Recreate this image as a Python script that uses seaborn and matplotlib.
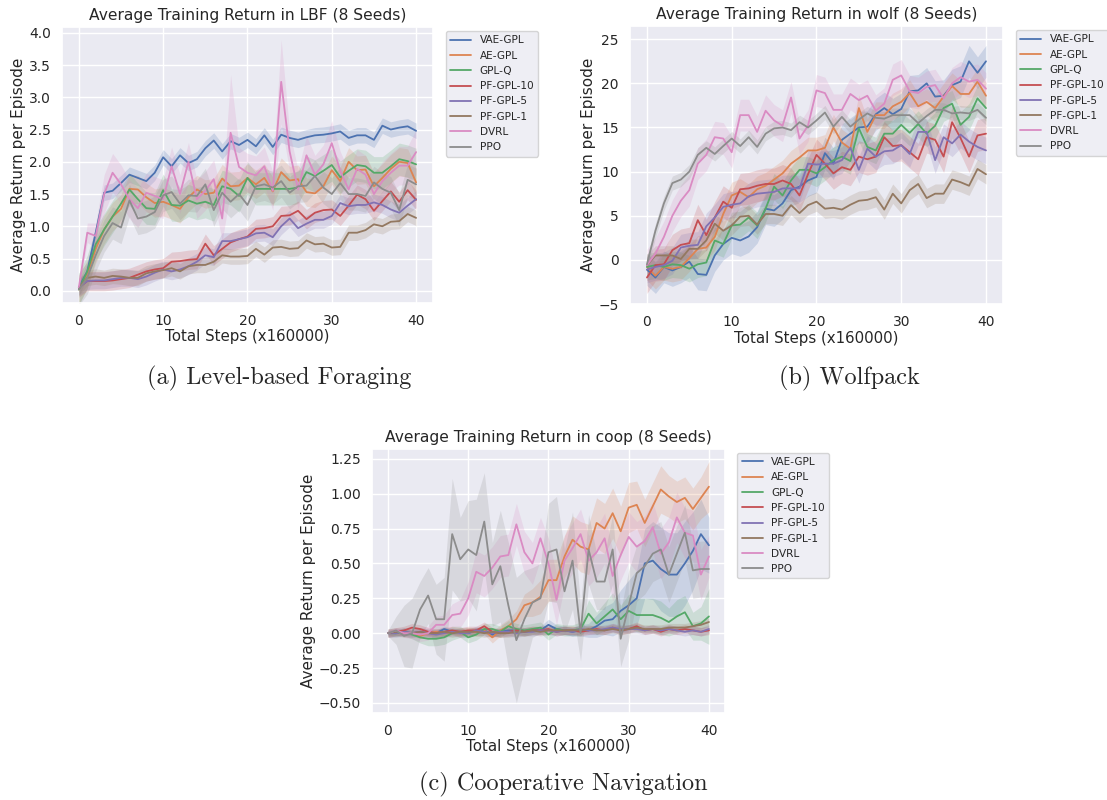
import numpy as np
import matplotlib
matplotlib.use("Agg")
import matplotlib.pyplot as plt
import seaborn as sns

METHODS = ["VAE-GPL", "AE-GPL", "GPL-Q", "PF-GPL-10", "PF-GPL-5", "PF-GPL-1", "DVRL", "PPO"]
STEPS = list(range(41))

# ---- Level-based Foraging ----
LBF_VAE_GPL = [0.05, 0.30, 0.90, 1.52, 1.55, 1.67, 1.80, 1.75, 1.70, 1.83, 2.07, 1.93, 2.10, 1.98, 2.04, 2.21, 2.33, 2.16, 2.32, 2.26, 2.34,
               2.24, 2.41, 2.23, 2.42, 2.37, 2.34, 2.38, 2.41, 2.42, 2.44, 2.47, 2.37, 2.41, 2.41, 2.34, 2.56, 2.50, 2.53, 2.55, 2.48]
LBF_AE_GPL = [0.02, 0.25, 0.65, 0.95, 1.15, 1.27, 1.58, 1.57, 1.45, 1.36, 1.38, 1.33, 1.27, 1.45, 1.57, 1.50, 1.52, 1.74, 1.62, 1.63, 1.75,
              1.65, 1.75, 1.54, 1.84, 1.71, 1.73, 1.53, 1.51, 1.62, 1.87, 1.70, 2.00, 1.87, 1.88, 1.62, 1.75, 1.89, 2.00, 1.98, 1.68]
LBF_GPL_Q = [0.02, 0.30, 0.72, 0.95, 1.15, 1.35, 1.57, 1.42, 1.28, 1.27, 1.56, 1.33, 1.32, 1.40, 1.35, 1.38, 1.33, 1.62, 1.58, 1.47, 1.75,
             1.58, 1.58, 1.58, 1.58, 1.58, 1.60, 1.84, 1.78, 1.86, 1.95, 1.76, 1.86, 1.95, 1.93, 1.83, 1.83, 1.93, 2.04, 2.01, 1.96]
LBF_PF_GPL_10 = [0.05, 0.15, 0.15, 0.15, 0.16, 0.18, 0.20, 0.25, 0.30, 0.33, 0.35, 0.45, 0.46, 0.48, 0.49, 0.73, 0.55, 0.65, 0.75, 0.80, 0.84,
                 0.96, 0.97, 1.00, 1.16, 1.17, 1.24, 1.11, 1.21, 1.25, 1.26, 1.16, 1.32, 1.49, 1.42, 1.24, 1.39, 1.54, 1.38, 1.56, 1.41]
LBF_PF_GPL_5 = [0.05, 0.15, 0.16, 0.16, 0.18, 0.20, 0.20, 0.18, 0.22, 0.28, 0.33, 0.30, 0.33, 0.38, 0.45, 0.55, 0.52, 0.77, 0.77, 0.80, 0.83,
                0.89, 0.90, 0.83, 1.00, 1.12, 0.97, 1.04, 1.10, 1.10, 1.16, 1.36, 1.31, 1.33, 1.33, 1.37, 1.33, 1.26, 1.21, 1.32, 1.42]
LBF_PF_GPL_1 = [0.05, 0.20, 0.22, 0.20, 0.23, 0.22, 0.20, 0.20, 0.27, 0.30, 0.32, 0.35, 0.30, 0.38, 0.40, 0.40, 0.45, 0.55, 0.53, 0.53, 0.54,
                0.65, 0.56, 0.67, 0.68, 0.65, 0.66, 0.78, 0.72, 0.73, 0.67, 0.68, 0.90, 0.90, 0.94, 1.03, 1.00, 1.07, 1.08, 1.19, 1.13]
LBF_DVRL = [0.05, 0.90, 0.85, 1.50, 1.83, 1.65, 1.42, 1.28, 1.52, 1.47, 1.42, 1.93, 1.50, 2.00, 1.42, 1.55, 1.73, 1.12, 2.45, 1.92, 1.83,
            1.79, 1.93, 1.55, 3.24, 2.16, 1.57, 2.10, 1.80, 1.96, 2.29, 1.86, 1.57, 1.89, 1.80, 1.50, 1.70, 1.83, 1.94, 1.94, 2.15]
LBF_PPO = [0.02, 0.20, 0.55, 0.85, 1.05, 0.98, 1.40, 1.12, 1.15, 1.22, 1.48, 1.53, 1.35, 1.48, 1.47, 1.65, 1.25, 1.52, 1.38, 1.50, 1.33,
           1.62, 1.65, 1.60, 1.70, 1.52, 1.62, 1.63, 1.78, 1.60, 1.50, 1.67, 1.50, 1.50, 1.47, 1.68, 1.58, 1.52, 1.25, 1.72, 1.65]
LBF_DVRL_SPREAD = [0.05, 0.15, 0.20, 0.30, 0.30, 0.30, 0.30, 0.30, 0.30, 0.30, 0.30, 0.30, 0.30, 0.30, 0.30, 0.30, 0.30, 0.35, 0.90, 0.30, 0.30,
                   0.30, 0.30, 0.30, 0.65, 0.30, 0.30, 0.30, 0.30, 0.30, 0.35, 0.30, 0.30, 0.30, 0.30, 0.30, 0.30, 0.30, 0.30, 0.30, 0.35]
LBF_SPREAD = [0.12, 0.22, 0.25, 0.15, 0.13, 0.12, LBF_DVRL_SPREAD, 0.25]

# ---- Wolfpack ----
WOLF_VAE_GPL = [-1.1, -2.0, -0.8, -1.2, -0.8, -0.2, -1.6, -1.7, 0.5, 1.8, 2.5, 2.2, 2.65, 3.7, 5.8, 5.6, 6.4, 7.9, 8.3, 9.0, 9.4,
                12.1, 10.9, 13.6, 14.3, 15.0, 15.1, 16.5, 17.2, 16.5, 17.1, 19.1, 19.2, 20.0, 18.5, 18.6, 19.8, 20.2, 22.5, 21.2, 22.5]
WOLF_AE_GPL = [-0.8, -1.8, -0.8, -1.0, -0.8, 0.2, 1.25, 1.4, 2.6, 5.2, 7.3, 7.7, 7.1, 8.0, 8.4, 9.1, 9.8, 10.9, 11.6, 12.4, 12.4,
               12.7, 15.0, 13.3, 12.6, 17.2, 14.5, 16.4, 16.4, 17.4, 17.9, 18.9, 17.4, 17.9, 17.2, 18.5, 19.7, 18.8, 18.8, 20.2, 18.6]
WOLF_GPL_Q = [-0.8, -0.6, -0.8, -0.5, -0.6, -1.0, -0.5, -0.3, 2.2, 1.8, 3.9, 4.0, 4.8, 3.9, 5.8, 8.3, 7.3, 9.0, 10.2, 10.2, 9.8,
              10.5, 11.3, 11.7, 11.2, 14.9, 12.8, 12.4, 14.3, 14.3, 15.3, 14.4, 15.4, 14.3, 15.2, 17.2, 17.7, 15.3, 16.2, 18.3, 17.2]
WOLF_PF_GPL_10 = [-2.0, -0.6, -0.5, 1.1, 1.7, 1.9, 4.5, 2.8, 4.8, 6.6, 5.9, 8.0, 8.1, 8.4, 8.6, 8.6, 9.0, 8.6, 7.3, 9.7, 11.9,
                  10.9, 9.8, 10.5, 10.2, 11.7, 11.4, 11.7, 13.9, 12.9, 13.0, 12.2, 11.4, 13.9, 13.6, 11.7, 15.6, 13.8, 11.7, 14.1, 14.3]
WOLF_PF_GPL_5 = [-1.1, -0.8, -0.6, -0.1, 1.4, 1.6, 1.7, 3.8, 4.8, 6.0, 6.25, 6.4, 7.2, 7.5, 7.6, 7.7, 8.1, 8.1, 8.1, 10.9, 10.8,
                 10.9, 10.9, 11.3, 12.7, 10.2, 12.6, 11.7, 12.3, 12.4, 13.0, 12.0, 14.5, 14.5, 11.3, 13.9, 13.2, 14.2, 13.4, 12.8, 12.4]
WOLF_PF_GPL_1 = [-0.6, 0.5, 0.5, 0.5, 0.1, 1.25, 1.25, 2.2, 4.1, 3.3, 3.9, 4.9, 5.0, 4.0, 5.2, 5.2, 5.0, 6.2, 5.3, 6.2, 6.6,
                 5.8, 5.9, 5.7, 6.25, 6.7, 6.8, 7.1, 5.7, 7.5, 6.4, 7.9, 8.6, 7.0, 7.5, 7.5, 9.1, 8.8, 8.4, 10.3, 9.7]
WOLF_DVRL = [-0.6, 0.7, 2.6, 5.0, 6.7, 7.9, 10.9, 11.9, 13.9, 13.75, 12.2, 16.4, 16.4, 14.5, 16.9, 15.8, 15.2, 18.4, 13.75, 15.2, 19.2,
             18.9, 17.0, 17.0, 18.8, 18.1, 18.6, 16.9, 17.7, 20.4, 20.9, 19.1, 18.9, 19.6, 19.8, 18.3, 20.0, 20.7, 20.2, 20.4, 19.4]
WOLF_PPO = [-0.5, 3.3, 6.4, 8.7, 9.1, 10.0, 11.9, 12.7, 12.0, 12.9, 13.75, 12.9, 13.9, 12.8, 14.3, 14.9, 15.0, 14.7, 15.6, 15.0, 15.8,
            16.7, 15.1, 16.2, 15.1, 15.9, 16.6, 16.1, 16.0, 16.4, 16.4, 16.4, 15.5, 16.3, 17.0, 17.0, 16.6, 16.7, 16.6, 17.0, 16.1]
WOLF_SPREAD = [1.8, 1.5, 1.5, 1.8, 1.5, 1.1, 1.8, 0.8]

# ---- Cooperative Navigation ----
COOP_VAE_GPL = [0.0, 0.0, 0.01, 0.0, 0.01, 0.0, 0.0, 0.03, 0.01, 0.01, 0.0, 0.02, 0.02, -0.01, 0.01, 0.02, 0.02, 0.01, 0.02, 0.02, 0.06,
                0.03, 0.02, 0.01, 0.02, 0.02, 0.05, 0.09, 0.10, 0.16, 0.20, 0.25, 0.50, 0.52, 0.46, 0.42, 0.42, 0.50, 0.59, 0.71, 0.63]
COOP_AE_GPL = [0.0, 0.01, 0.0, 0.0, -0.02, 0.0, 0.01, 0.0, 0.01, 0.0, 0.01, 0.01, 0.02, -0.03, 0.02, 0.05, 0.10, 0.20, 0.22, 0.26, 0.38,
               0.38, 0.55, 0.67, 0.62, 0.60, 0.79, 0.75, 0.86, 0.73, 0.90, 0.92, 0.79, 0.91, 1.03, 0.98, 0.94, 0.97, 0.89, 0.97, 1.05]
COOP_GPL_Q = [0.0, 0.0, 0.01, -0.01, -0.03, -0.04, -0.04, -0.03, 0.0, 0.01, -0.03, -0.01, 0.03, 0.03, 0.01, 0.05, 0.03, 0.02, 0.03, 0.04, -0.01,
              0.03, 0.02, 0.02, 0.03, 0.14, 0.07, 0.12, 0.17, 0.10, 0.16, 0.13, 0.13, 0.13, 0.11, 0.08, 0.12, 0.15, 0.05, 0.07, 0.12]
COOP_PF_GPL_10 = [0.0, 0.01, 0.02, 0.04, 0.03, 0.01, 0.0, 0.01, 0.02, 0.01, 0.02, 0.02, 0.05, 0.01, 0.0, 0.01, 0.02, 0.01, 0.02, 0.02, 0.03,
                  0.01, 0.02, 0.02, 0.01, 0.02, 0.03, 0.02, 0.04, 0.02, 0.03, 0.05, 0.02, 0.03, 0.01, 0.03, 0.02, 0.03, 0.02, 0.01, 0.02]
COOP_PF_GPL_5 = [0.0, 0.0, 0.01, 0.0, 0.01, 0.0, -0.01, 0.0, 0.01, 0.0, 0.0, 0.02, 0.01, 0.0, 0.01, 0.01, 0.0, 0.01, 0.01, 0.02, 0.02,
                 0.01, 0.02, 0.01, 0.03, 0.02, 0.02, 0.03, 0.04, 0.03, 0.03, 0.03, 0.02, 0.03, 0.02, 0.03, 0.02, 0.01, 0.02, 0.01, 0.03]
COOP_PF_GPL_1 = [0.0, 0.01, 0.0, 0.0, 0.01, 0.0, 0.0, 0.01, 0.0, 0.01, 0.01, 0.01, 0.0, 0.01, 0.0, 0.0, 0.01, 0.01, 0.02, 0.01, 0.02,
                 0.02, 0.02, 0.02, 0.02, 0.03, 0.02, 0.02, 0.03, 0.02, 0.03, 0.04, 0.03, 0.03, 0.03, 0.04, 0.04, 0.04, 0.05, 0.06, 0.08]
COOP_DVRL = [0.0, 0.02, 0.0, 0.0, -0.01, 0.0, 0.06, 0.06, 0.13, 0.14, 0.25, 0.44, 0.41, 0.47, 0.55, 0.56, 0.78, 0.58, 0.50, 0.68, 0.50,
             0.24, 0.52, 0.61, 0.71, 0.52, 0.58, 0.68, 0.41, 0.56, 0.69, 0.62, 0.66, 0.76, 0.57, 0.65, 0.83, 0.72, 0.70, 0.42, 0.55]
COOP_PPO = [0.0, 0.02, -0.02, 0.0, 0.17, 0.27, 0.10, 0.10, 0.71, 0.53, 0.60, 0.56, 0.80, 0.35, 0.48, 0.20, -0.05, 0.10, 0.22, 0.25, 0.58,
            0.60, 0.30, 0.52, 0.0, 0.60, 0.37, 0.37, 0.60, -0.04, 0.20, 0.43, 0.48, 0.57, 0.60, 0.42, 0.57, 0.72, 0.45, 0.46, 0.46]
COOP_VAE_SPREAD = [0.02, 0.02, 0.02, 0.02, 0.02, 0.02, 0.02, 0.02, 0.02, 0.02, 0.02, 0.02, 0.02, 0.02, 0.02, 0.02, 0.02, 0.02, 0.02, 0.03, 0.04,
                   0.03, 0.03, 0.03, 0.04, 0.05, 0.08, 0.10, 0.12, 0.15, 0.18, 0.20, 0.25, 0.28, 0.30, 0.30, 0.30, 0.30, 0.28, 0.25, 0.20]
COOP_AE_SPREAD = [0.02, 0.02, 0.02, 0.02, 0.02, 0.02, 0.02, 0.02, 0.02, 0.03, 0.03, 0.03, 0.03, 0.04, 0.04, 0.05, 0.06, 0.08, 0.10, 0.12, 0.15,
                  0.15, 0.15, 0.17, 0.18, 0.18, 0.18, 0.18, 0.18, 0.18, 0.18, 0.17, 0.17, 0.17, 0.17, 0.15, 0.15, 0.15, 0.15, 0.15, 0.18]
COOP_GPLQ_SPREAD = [0.02, 0.02, 0.03, 0.03, 0.04, 0.05, 0.05, 0.05, 0.05, 0.04, 0.04, 0.04, 0.04, 0.04, 0.04, 0.04, 0.04, 0.04, 0.04, 0.04, 0.04,
                    0.04, 0.04, 0.04, 0.05, 0.10, 0.08, 0.10, 0.12, 0.10, 0.12, 0.12, 0.12, 0.12, 0.12, 0.10, 0.12, 0.12, 0.10, 0.12, 0.20]
COOP_DVRL_SPREAD = [0.02, 0.02, 0.03, 0.04, 0.05, 0.05, 0.06, 0.07, 0.08, 0.10, 0.12, 0.15, 0.15, 0.15, 0.15, 0.15, 0.15, 0.15, 0.15, 0.15, 0.18,
                    0.18, 0.18, 0.18, 0.18, 0.18, 0.18, 0.18, 0.18, 0.18, 0.18, 0.18, 0.18, 0.18, 0.18, 0.18, 0.18, 0.18, 0.18, 0.18, 0.15]
COOP_PPO_SPREAD = [0.02, 0.10, 0.22, 0.25, 0.20, 0.20, 0.25, 0.30, 0.40, 0.30, 0.35, 0.40, 0.35, 0.30, 0.40, 0.45, 0.45, 0.35, 0.25, 0.25, 0.35,
                   0.38, 0.30, 0.35, 0.20, 0.25, 0.20, 0.20, 0.25, 0.20, 0.25, 0.20, 0.20, 0.20, 0.20, 0.20, 0.20, 0.20, 0.20, 0.20, 0.20]
COOP_SPREAD = [COOP_VAE_SPREAD, COOP_AE_SPREAD, COOP_GPLQ_SPREAD, 0.03, 0.03, 0.03, COOP_DVRL_SPREAD, COOP_PPO_SPREAD]

LBF = [LBF_VAE_GPL, LBF_AE_GPL, LBF_GPL_Q, LBF_PF_GPL_10, LBF_PF_GPL_5, LBF_PF_GPL_1, LBF_DVRL, LBF_PPO]
WOLF = [WOLF_VAE_GPL, WOLF_AE_GPL, WOLF_GPL_Q, WOLF_PF_GPL_10, WOLF_PF_GPL_5, WOLF_PF_GPL_1, WOLF_DVRL, WOLF_PPO]
COOP = [COOP_VAE_GPL, COOP_AE_GPL, COOP_GPL_Q, COOP_PF_GPL_10, COOP_PF_GPL_5, COOP_PF_GPL_1, COOP_DVRL, COOP_PPO]

sns.set_theme(style="darkgrid", palette="deep")
plt.rcParams["font.family"] = ["DejaVu Sans"]
colors = sns.color_palette("deep", 8)

fig = plt.figure(figsize=(11.07, 8.0), dpi=100)


def draw_panel(rect, series, spreads, env, ylim, yticks, yfmt):
    ax = fig.add_axes(rect)
    for name, vals, sd, c in zip(METHODS, series, spreads, colors):
        vals = np.asarray(vals)
        sd = np.broadcast_to(np.asarray(sd, dtype=float), vals.shape)
        ax.fill_between(STEPS, vals - sd, vals + sd, color=c, alpha=0.2, linewidth=0)
        sns.lineplot(x=STEPS, y=vals, color=c, label=name, linewidth=1.3, ax=ax)
    ax.set_xlim(-2, 42)
    ax.set_ylim(*ylim)
    ax.set_xticks([0, 10, 20, 30, 40])
    ax.set_yticks(yticks)
    ax.set_yticklabels([yfmt.format(t).replace("-", "\u2212") for t in yticks])
    ax.tick_params(labelsize=10, pad=2)
    ax.set_title(f"Average Training Return in {env} (8 Seeds)", fontsize=11.2, pad=5)
    ax.set_xlabel("Total Steps (x160000)", fontsize=10.8, labelpad=1)
    ax.set_ylabel("Average Return per Episode", fontsize=11, labelpad=2)
    ax.legend(loc="upper left", bbox_to_anchor=(1.035, 0.985), borderaxespad=0,
              fontsize=7.6, frameon=True)
    return ax


draw_panel([0.0560, 0.62125, 0.3351, 0.345], LBF, LBF_SPREAD, "LBF",
           (-0.19, 4.09), [0.0, 0.5, 1.0, 1.5, 2.0, 2.5, 3.0, 3.5, 4.0], "{:.1f}")
draw_panel([0.5691, 0.62, 0.3369, 0.3475], WOLF, WOLF_SPREAD, "wolf",
           (-5.0, 26.5), [-5, 0, 5, 10, 15, 20, 25], "{:d}")
draw_panel([0.3360, 0.10875, 0.3189, 0.33], COOP, COOP_SPREAD, "coop",
           (-0.572, 1.32), [-0.5, -0.25, 0.0, 0.25, 0.5, 0.75, 1.0, 1.25], "{:.2f}")

cap = dict(ha="center", va="center", fontsize=17.5, family=["cmr10", "DejaVu Serif"])
fig.text(0.252, 0.5275, "(a) Level-based Foraging", **cap)
fig.text(0.767, 0.5275, "(b) Wolfpack", **cap)
fig.text(0.5086, 0.019, "(c) Cooperative Navigation", **cap)

fig.savefig("out.png", dpi=100)
